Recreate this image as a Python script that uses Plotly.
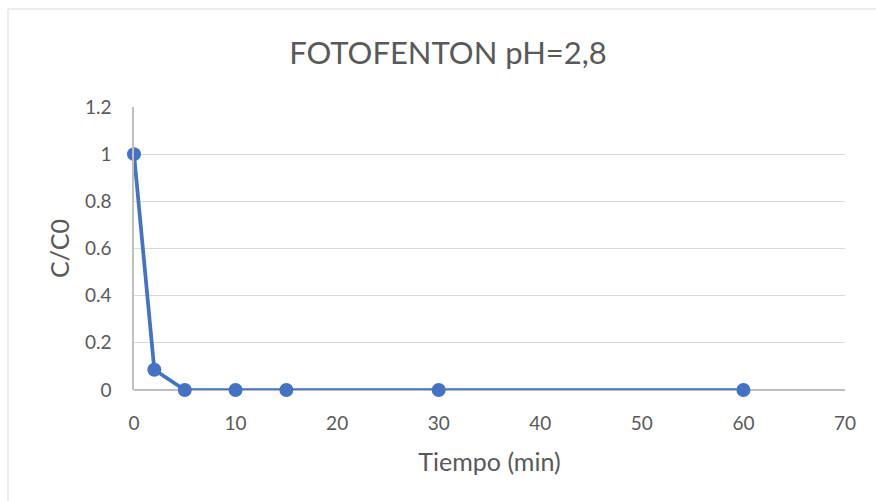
import plotly.graph_objects as go

tiempo = [0, 2, 5, 10, 15, 30, 60]
c_c0 = [1.0, 0.086, 0.0, 0.0, 0.0, 0.0, 0.0]
x_ticks = [0, 10, 20, 30, 40, 50, 60, 70]
y_ticks = [0, 0.2, 0.4, 0.6, 0.8, 1.0, 1.2]
y_tick_labels = ["0", "0.2", "0.4", "0.6", "0.8", "1", "1.2"]

W, H = 876, 501
ml, mr, mt, mb = 134, 31, 107, 111
pw, ph = W - ml - mr, H - mt - mb

fig = go.Figure()
fig.add_trace(go.Scatter(
    x=tiempo, y=c_c0, mode="lines+markers",
    line=dict(color="#4472C4", width=3.75),
    marker=dict(color="#4472C4", size=14),
    cliponaxis=False,
    showlegend=False,
))

font_fam = "Lato, Noto Sans, sans-serif"
fig.update_layout(
    width=W, height=H,
    margin=dict(l=ml, r=mr, t=mt, b=mb),
    paper_bgcolor="white", plot_bgcolor="white",
    font=dict(family=font_fam, color="#595959", size=19),
    title=dict(text="FOTOFENTON pH=2,8", x=(448 / W), xanchor="center",
               y=1 - 53 / H, yanchor="middle",
               font=dict(size=31, color="#595959", family=font_fam)),
    xaxis=dict(range=[0, 70], tickvals=x_ticks, showgrid=False,
               zeroline=False, showline=False, ticks="",
               ticklabelstandoff=20,
               title=dict(text="Tiempo (min)", font=dict(size=25), standoff=20)),
    yaxis=dict(range=[0, 1.2], tickvals=y_ticks, ticktext=y_tick_labels,
               showgrid=True, gridcolor="#d9d9d9", gridwidth=1,
               zeroline=True, zerolinecolor="#bfbfbf", zerolinewidth=1.5,
               showline=True, linecolor="#bfbfbf", linewidth=1.5,
               ticks="", ticklabelstandoff=17,
               title=dict(text="C/C0", font=dict(size=25), standoff=8)),
    shapes=[dict(type="rect", xref="paper", yref="paper",
                 x0=(8 - ml) / pw, x1=2.0, y0=-2.0, y1=(H - mb - 9) / ph,
                 line=dict(color="#d9d9d9", width=1), layer="below")],
)

fig.write_html("out.html")
